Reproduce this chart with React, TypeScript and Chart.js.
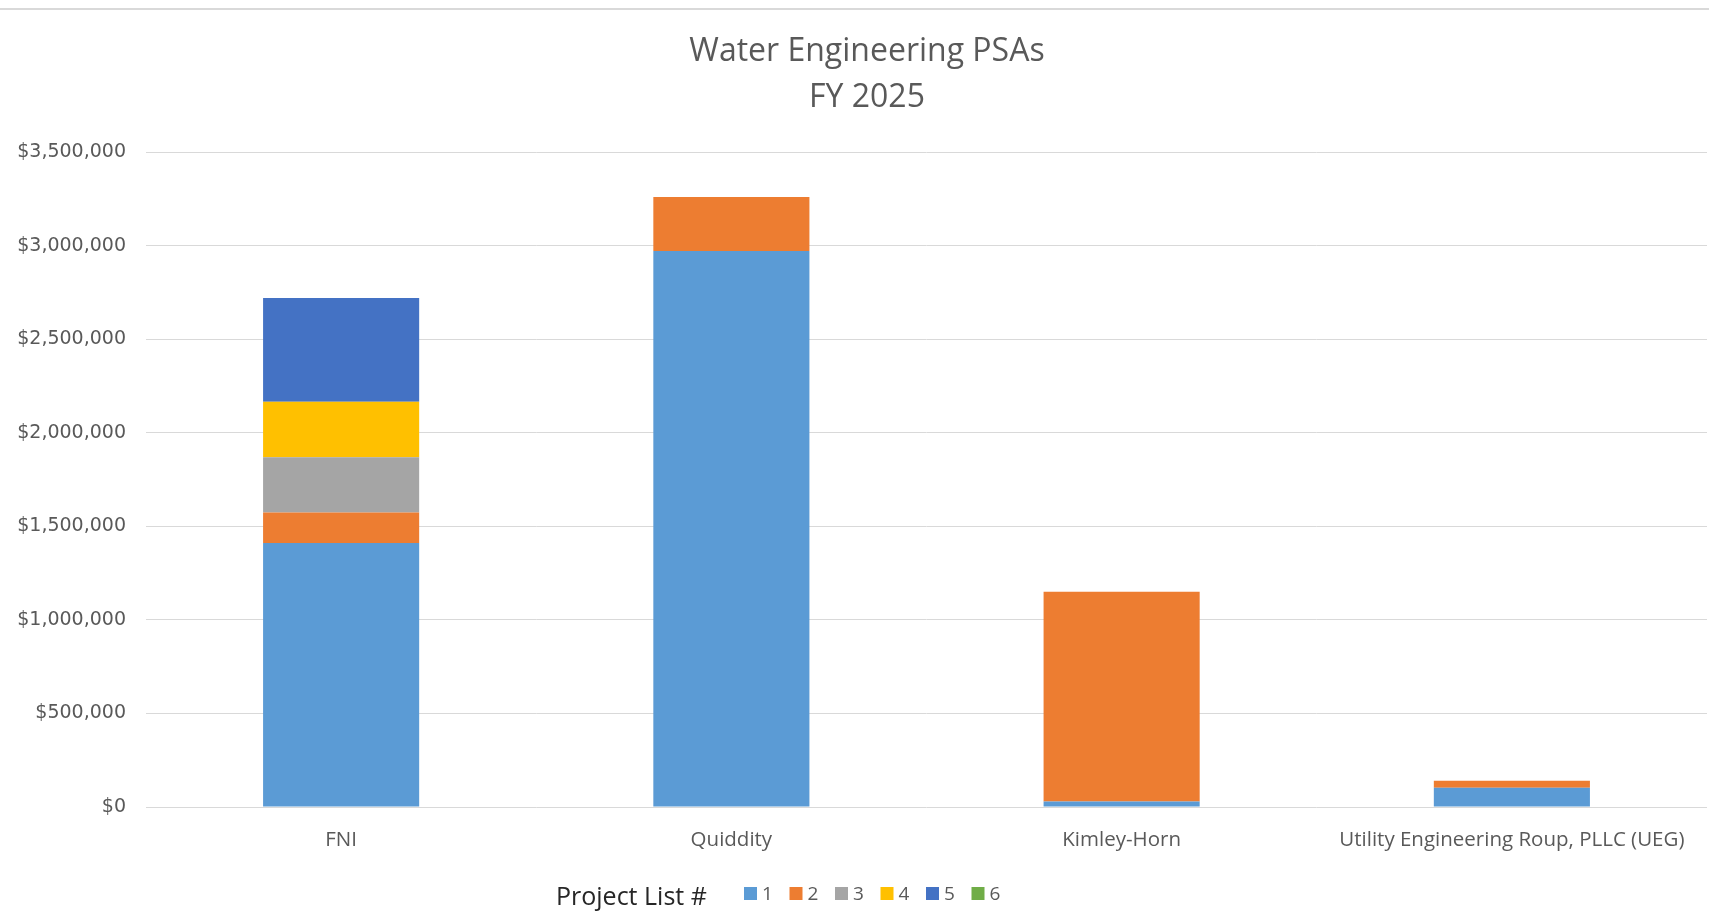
import React, { useEffect, useRef } from "react";
import { Chart, registerables } from "chart.js";

Chart.register(...registerables);

const categories = ["FNI", "Quiddity", "Kimley-Horn", "Utility Engineering Roup, PLLC (UEG)"];
const project1 = [1411000, 2971000, 30000, 103000];
const project2 = [162000, 289000, 1120000, 37000];
const project3 = [296000, 0, 0, 0];
const project4 = [296000, 0, 0, 0];
const project5 = [555000, 0, 0, 0];
const project6 = [0, 0, 0, 0];
const seriesLabels = ["1", "2", "3", "4", "5", "6"];
const seriesColors = ["#5B9BD5", "#ED7D31", "#A5A5A5", "#FFC000", "#4472C4", "#70AD47"];
const titleLines = ["Water Engineering PSAs", "FY 2025"];
const legendTitle = "Project List #";
const yMin = 0;
const yMax = 3500000;
const yStep = 500000;

const FONT = "'Open Sans', sans-serif";
const TICK_FONT = "'DejaVu Sans', sans-serif";

const frameLine = {
  id: "frameLine",
  beforeDraw(chart: any) {
    const ctx = chart.ctx;
    ctx.save();
    ctx.fillStyle = "#d9d9d9";
    ctx.fillRect(0, 8, chart.width, 2);
    ctx.restore();
  },
};

const titleBlock = {
  id: "titleBlock",
  afterDraw(chart: any) {
    const ctx = chart.ctx;
    ctx.save();
    ctx.textBaseline = "middle";
    ctx.textAlign = "center";
    ctx.fillStyle = "#595959";
    ctx.font = `32px ${FONT}`;
    titleLines.forEach((line, i) => {
      ctx.fillText(line, 867, 52 + i * 46);
    });
    ctx.restore();
  },
};

const inlineLegend = {
  id: "inlineLegend",
  afterDraw(chart: any) {
    const ctx = chart.ctx;
    ctx.save();
    ctx.textBaseline = "alphabetic";
    ctx.textAlign = "left";
    ctx.fillStyle = "#262626";
    ctx.font = `25px ${FONT}`;
    ctx.fillText(legendTitle, 556, 905);
    ctx.font = `19px ${FONT}`;
    chart.data.datasets.forEach((ds: any, i: number) => {
      const x = 744 + i * 45.5;
      ctx.fillStyle = ds.backgroundColor;
      ctx.fillRect(x, 887, 13, 13);
      ctx.fillStyle = "#595959";
      ctx.fillText(ds.label, x + 18, 900);
    });
    ctx.restore();
  },
};

export default function App() {
  const ref = useRef<HTMLCanvasElement | null>(null);
  useEffect(() => {
    if (!ref.current) return;
    const values = [project1, project2, project3, project4, project5, project6];
    const chart = new Chart(ref.current, {
      type: "bar",
      data: {
        labels: categories,
        datasets: values.map((v, i) => ({
          label: seriesLabels[i],
          data: v,
          backgroundColor: seriesColors[i],
          borderWidth: 0,
          categoryPercentage: 1,
          barPercentage: 0.4,
        })),
      },
      options: {
        animation: false,
        responsive: false,
        devicePixelRatio: 1,
        layout: { padding: { top: 152, left: 0, right: 2, bottom: 0 } },
        plugins: {
          legend: { display: false },
          tooltip: { enabled: false },
          title: { display: false },
        },
        scales: {
          x: {
            stacked: true,
            grid: { display: false, drawTicks: false },
            border: { display: false },
            ticks: {
              color: "#595959",
              font: { family: FONT, size: 20.5 },
              padding: 21,
              maxRotation: 0,
              autoSkip: false,
            },
            afterFit(scale: any) {
              scale.height = 105;
            },
          },
          y: {
            stacked: true,
            min: yMin,
            max: yMax,
            grid: { color: "#d9d9d9", lineWidth: 1, drawTicks: false },
            border: { display: false },
            ticks: {
              stepSize: yStep,
              color: "#595959",
              font: { family: TICK_FONT, size: 19 },
              padding: 20,
              callback: (v: any) => "$" + Number(v).toLocaleString("en-US"),
            },
            afterFit(scale: any) {
              scale.width = 146;
            },
          },
        } as any,
      },
      plugins: [frameLine, titleBlock, inlineLegend],
    });
    return () => chart.destroy();
  }, []);
  return (
    <div style={{ position: "absolute", left: 0, top: 0, width: 1709, height: 912, background: "#fff" }}>
      <canvas ref={ref} width={1709} height={912} style={{ display: "block", width: 1709, height: 912 }} />
    </div>
  );
}
